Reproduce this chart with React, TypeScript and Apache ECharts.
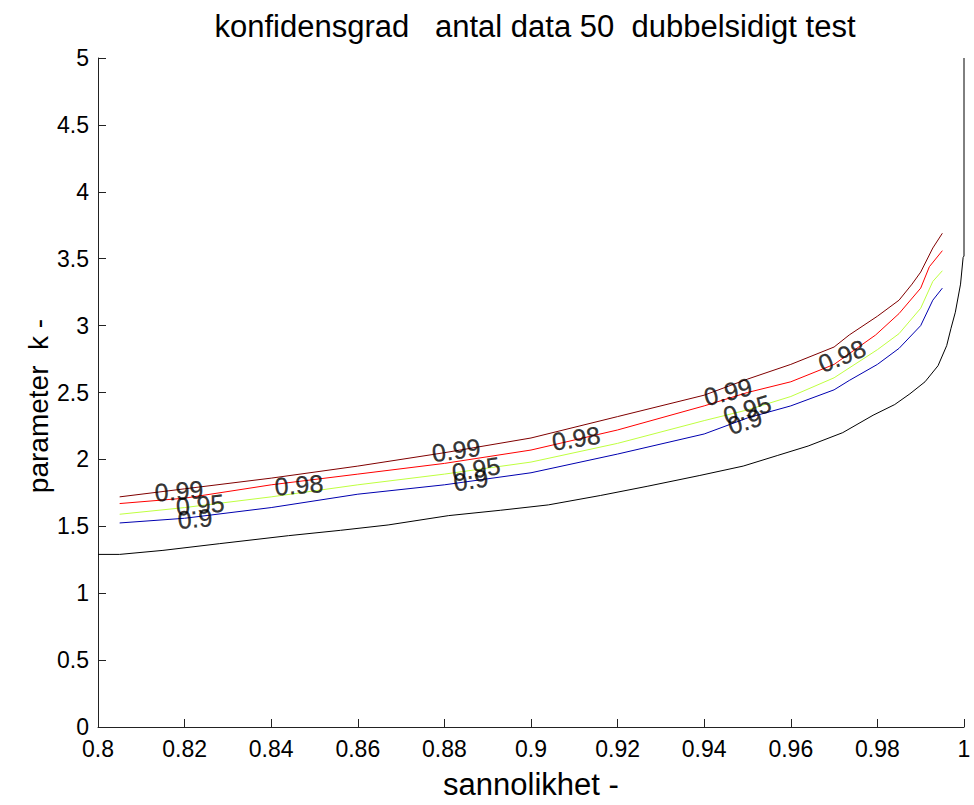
import React, { useEffect, useRef } from "react";
import * as echarts from "echarts";

// Contour levels of the confidence degree and their line colours
const levels = ["0.99", "0.98", "0.95", "0.9"];
const levelColors = ["#800000", "#ff0000", "#bfff40", "#0000b0"];

// Contour lines: [probability, parameter k]
const line099: [number, number][] = [
  [0.805, 1.72], [0.82, 1.78], [0.84, 1.86], [0.86, 1.95], [0.88, 2.05],
  [0.9, 2.16], [0.92, 2.32], [0.94, 2.48], [0.95, 2.6], [0.96, 2.71],
  [0.97, 2.84], [0.9735, 2.93], [0.98, 3.07], [0.985, 3.19], [0.988, 3.31],
  [0.99, 3.4], [0.9928, 3.58], [0.995, 3.69],
];
const line098: [number, number][] = [
  [0.805, 1.67], [0.82, 1.71], [0.84, 1.81], [0.86, 1.89], [0.88, 1.97],
  [0.9, 2.07], [0.92, 2.22], [0.94, 2.4], [0.95, 2.5], [0.96, 2.58],
  [0.97, 2.71], [0.9796, 2.93], [0.985, 3.09], [0.99, 3.28], [0.992, 3.44],
  [0.995, 3.56],
];
const line095: [number, number][] = [
  [0.805, 1.59], [0.82, 1.64], [0.84, 1.72], [0.86, 1.81], [0.88, 1.89],
  [0.9, 1.98], [0.92, 2.12], [0.94, 2.29], [0.95, 2.37], [0.96, 2.47],
  [0.97, 2.61], [0.98, 2.82], [0.985, 2.94], [0.99, 3.13], [0.9928, 3.33],
  [0.995, 3.41],
];
const line090: [number, number][] = [
  [0.805, 1.525], [0.82, 1.56], [0.84, 1.64], [0.86, 1.74], [0.88, 1.81],
  [0.9, 1.9], [0.92, 2.04], [0.94, 2.19], [0.95, 2.31], [0.96, 2.4],
  [0.97, 2.52], [0.9735, 2.59], [0.98, 2.71], [0.985, 2.83], [0.99, 3.0],
  [0.9928, 3.19], [0.995, 3.28],
];
// Lower boundary curve, rising to the top at p = 1
const boundary: [number, number][] = [
  [0.8, 1.29], [0.805, 1.29], [0.815, 1.32], [0.828, 1.37], [0.844, 1.43],
  [0.856, 1.47], [0.867, 1.51], [0.881, 1.58], [0.893, 1.62], [0.904, 1.66],
  [0.916, 1.73], [0.927, 1.8], [0.939, 1.88], [0.949, 1.95], [0.957, 2.03],
  [0.964, 2.1], [0.972, 2.2], [0.979, 2.33], [0.984, 2.41], [0.9875, 2.49],
  [0.991, 2.58], [0.994, 2.7], [0.996, 2.85], [0.997, 2.98], [0.998, 3.1],
  [0.9992, 3.31], [0.9998, 3.51], [1.0, 3.52], [1.0, 5.0],
];

// Inline contour labels: [p, k, level index, rotation in degrees]
const contourLabels: [number, number, number, number][] = [
  [0.8187, 1.766, 0, 4], [0.8236, 1.662, 2, 5], [0.8224, 1.558, 3, 5],
  [0.8464, 1.81, 1, 4],
  [0.8827, 2.07, 0, 8], [0.8873, 1.93, 2, 9], [0.8861, 1.847, 3, 9],
  [0.9104, 2.159, 1, 9],
  [0.9455, 2.507, 0, 14], [0.9499, 2.374, 2, 17], [0.9494, 2.285, 3, 17],
  [0.9718, 2.774, 1, 22],
];

const xTicks = { min: 0.8, max: 1.0, step: 0.02 };
const yTicks = { min: 0, max: 5, step: 0.5 };

const FONT = '"Liberation Sans", Arial, Helvetica, sans-serif';

export default function App() {
  const ref = useRef<HTMLDivElement>(null);

  useEffect(() => {
    if (!ref.current) return;
    const chart = echarts.init(ref.current, undefined, { renderer: "svg" });
    const lines = [line099, line098, line095, line090];

    const axisCommon = {
      type: "value" as const,
      axisLine: { show: true, lineStyle: { color: "#222", width: 1 } },
      axisTick: { show: true, inside: true, length: 8, lineStyle: { color: "#222" } },
      splitLine: { show: false },
    };

    chart.setOption({
      animation: false,
      backgroundColor: "#fff",
      title: {
        text: "konfidensgrad   antal data 50  dubbelsidigt test",
        left: 530,
        top: 6,
        textAlign: "center",
        textStyle: { fontFamily: FONT, fontSize: 31, fontWeight: "normal", color: "#000" },
      },
      grid: { left: 98, right: 10, top: 58, bottom: 69 },
      graphic: [
        {
          type: "text",
          x: 38,
          y: 406,
          rotation: Math.PI / 2,
          style: {
            text: "parameter  k -",
            fontFamily: FONT,
            fontSize: 28,
            fill: "#000",
            align: "center",
            verticalAlign: "middle",
          },
        },
      ],
      xAxis: {
        ...axisCommon,
        min: xTicks.min,
        max: xTicks.max,
        interval: xTicks.step,
        name: "sannolikhet -",
        nameLocation: "middle",
        nameGap: 42,
        nameTextStyle: { fontFamily: FONT, fontSize: 31, color: "#000" },
        axisLabel: {
          fontFamily: FONT,
          fontSize: 23,
          color: "#000",
          margin: 10,
          showMaxLabel: true,
          formatter: (v: number) => String(+v.toFixed(2)),
        },
      },
      yAxis: {
        ...axisCommon,
        min: yTicks.min,
        max: yTicks.max,
        interval: yTicks.step,
        axisLabel: {
          fontFamily: FONT,
          fontSize: 23,
          color: "#000",
          margin: 9,
          formatter: (v: number) => String(+v.toFixed(1)),
        },
      },
      series: [
        ...lines.map((d, i) => ({
          type: "line",
          name: levels[i],
          data: d,
          symbol: "none",
          lineStyle: { color: levelColors[i], width: 1 },
          z: 2,
        })),
        {
          type: "line",
          name: "boundary",
          data: boundary,
          symbol: "none",
          lineStyle: { color: "#000", width: 1 },
          z: 2,
        },
        {
          type: "scatter",
          symbolSize: 0,
          itemStyle: { color: "#000" },
          z: 5,
          data: contourLabels.map(([p, k, li, rot]) => ({
            value: [p, k],
            label: {
              show: true,
              position: "inside",
              formatter: levels[li],
              rotate: rot,
              fontFamily: FONT,
              fontSize: 25,
              color: "#000",
              textBorderColor: "#000",
              textBorderWidth: 0.3,
            },
          })),
        },
      ],
    });

    return () => chart.dispose();
  }, []);

  return (
    <div
      ref={ref}
      style={{ position: "fixed", left: 0, top: 0, width: 974, height: 805, background: "#fff" }}
    />
  );
}
